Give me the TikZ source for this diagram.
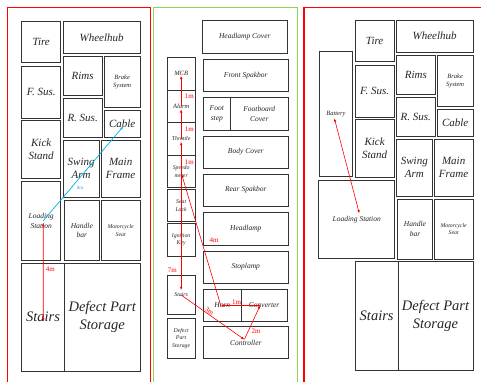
\documentclass[tikz,border=0pt]{standalone}
\usepackage{fontspec}
\setmainfont{Liberation Serif}
\usetikzlibrary{arrows.meta}
\definecolor{pgreen}{RGB}{146,208,80}
\definecolor{pblue}{RGB}{0,176,240}
\definecolor{lblue}{RGB}{80,150,220}
\newcommand\bx[7]{\node[box,#6,minimum width={(#4-#2)*1pt},minimum height={(#5-#3)*1pt}] (#1) at ({(#2+#4)/2},{(#3+#5)/2}) {#7};}
\tikzset{
  box/.style={draw=black!80, line width=0.8pt, inner sep=0pt, outer sep=0pt, align=center, text=black!85},
  sA/.style={font=\fontsize{14.5}{18}\selectfont\itshape},
  sB/.style={font=\fontsize{11}{13}\selectfont\itshape},
  sC/.style={font=\fontsize{8.5}{10.5}\selectfont\itshape},
  sD/.style={font=\fontsize{7.5}{9.5}\selectfont\itshape},
  sE/.style={font=\fontsize{6.5}{7.8}\selectfont\itshape},
  sF/.style={font=\fontsize{5.8}{7.6}\selectfont\itshape},
  frame/.style={line width=1.4pt},
  ra/.style={draw=red, line width=0.6pt, -{Latex[length=3.2pt,width=2.6pt]}},
  rab/.style={draw=red, line width=0.6pt, {Latex[length=3.2pt,width=2.6pt]}-{Latex[length=3.2pt,width=2.6pt]}},
  ba/.style={draw=pblue, line width=0.7pt, -{Latex[length=3.2pt,width=2.6pt]}},
  rlab/.style={font=\fontsize{7}{7}\selectfont, text=red, inner sep=0pt},
  blab/.style={font=\fontsize{5}{5}\selectfont, text=lblue, inner sep=0pt},
}
\begin{document}
\begin{tikzpicture}[x=1pt,y=-1pt]
\useasboundingbox (0,0) rectangle (481,381);
\clip (0,0) rectangle (481,381);
\fill[white] (0,0) rectangle (481,381);
% panel frames
\draw[frame, red] (7.3,400) -- (7.3,7.3) -- (150.7,7.3) -- (150.7,400);
\draw[frame, pgreen] (153.6,400) -- (153.6,7.3) -- (297.6,7.3) -- (297.6,400);
\draw[frame, red] (304,400) -- (304,7.3) -- (500,7.3);
% ---------- panel 1
\bx{tireA}{21.7}{21.3}{60.7}{62.3}{sB}{Tire}
\bx{wheelA}{63.3}{21.3}{140}{53.3}{sB}{Wheelhub}
\bx{rimsA}{63.3}{56.7}{102}{95.7}{sB}{Rims}
\bx{brakeA}{104.3}{56.7}{140}{107.7}{sE}{Brake\\System}
\bx{fsusA}{21.7}{66.3}{60.7}{118}{sB}{F. Sus.}
\bx{rsusA}{63.3}{98.7}{102}{137.3}{sB}{R. Sus.}
\bx{cableA}{104.3}{110.7}{140}{137.3}{sB}{Cable}
\bx{kickA}{21.7}{120.7}{60.7}{178.3}{sB}{Kick\\Stand}
\bx{swingA}{63.3}{140}{99}{197.7}{sB}{Swing\\Arm}
\bx{mainA}{101.3}{140}{140}{197.7}{sB}{Main\\Frame}
\bx{loadA}{21.7}{181.7}{60.7}{260}{sD}{Loading\\Station}
\bx{handleA}{64.3}{200.7}{99.3}{260.3}{sD}{Handle\\bar}
\bx{seatA}{101.3}{200.7}{140}{260.3}{sF}{Motorcycle\\Seat}
\bx{stairsA}{21.7}{263.3}{64.3}{371}{sA}{Stairs}
\bx{defectA}{64.3}{263.3}{140}{371}{sA}{Defect Part\\Storage}
\draw[ba] ([xshift=2pt]loadA.center) -- ([xshift=1pt,yshift=-2.5pt]cableA.center)
  node[blab, pos=0.35, xshift=9pt] {8m};
\draw[rab] ([xshift=2pt,yshift=-2pt]loadA.center) -- ([xshift=0.3pt,yshift=-4.5pt]stairsA.center)
  node[rlab, pos=0.47, xshift=7pt] {4m};
% ---------- panel 2
\bx{hlcov}{202.3}{20.7}{287.3}{53.3}{sD}{Headlamp Cover}
\bx{fspak}{203.3}{59.3}{288.3}{91.7}{sD}{Front Spakbor}
\bx{foot}{203.3}{97.7}{230.3}{130}{sD}{Foot\\step}
\bx{fbcov}{230.3}{97.7}{288.3}{130}{sD}{Footboard\\Cover}
\bx{body}{203.3}{136}{288.3}{168.3}{sD}{Body Cover}
\bx{rspak}{203.3}{174.3}{288.3}{206}{sD}{Rear Spakbor}
\bx{hl}{203.3}{212.7}{288.3}{245}{sD}{Headlamp}
\bx{stop}{203.3}{251}{288.3}{283.3}{sD}{Stoplamp}
\bx{horn}{203.3}{289.3}{241.3}{321.7}{sD}{Horn}
\bx{conv}{241.3}{289.3}{287}{321.7}{sD}{Converter}
\bx{ctrl}{203.3}{326.7}{288.3}{358.3}{sD}{Controller}
\bx{mcb}{167.3}{57.7}{195}{90}{sE}{MCB}
\bx{alarm}{167.3}{90}{195}{122.7}{sE}{Alarm}
\bx{thr}{167.3}{122.7}{195}{155}{sF}{Throttle}
\bx{spd}{167.3}{155}{195}{187.7}{sF}{Speedo\\meter}
\bx{slock}{167.3}{189.3}{195}{221.7}{sF}{Seat\\Lock}
\bx{ign}{167.3}{223.3}{195}{256}{sF}{Ignition\\Key}
\bx{stairsB}{167.3}{275.7}{195}{314.3}{sF}{Stairs}
\bx{defB}{167.3}{318.3}{195}{358.3}{sF}{Defect\\Part\\Storage}
\draw[ra] (alarm.center) -- ([yshift=-2pt]mcb.center) node[rlab, pos=0.32, anchor=west, xshift=3.5pt] {1m};
\draw[ra] (thr.center) -- ([yshift=-3pt]alarm.center) node[rlab, pos=0.32, anchor=west, xshift=3.5pt] {1m};
\draw[ra] (spd.center) -- ([yshift=-3pt]thr.center) node[rlab, pos=0.32, anchor=west, xshift=3.5pt] {1m};
\draw[ra] (spd.center) -- ([yshift=5pt]stairsB.center) node[rlab, pos=0.83, anchor=east, xshift=-4pt] {7m};
\draw[ra] ([xshift=-1.5pt]horn.center) -- ([xshift=0.5pt,yshift=-3pt]spd.center) node[rlab, pos=0.5, anchor=west, xshift=8pt] {4m};
\draw[ra] ([xshift=-4pt]conv.center) -- ([xshift=-1.5pt]horn.center) node[rlab, pos=0.6, above=0.5pt] {1m};
\draw[ra] (stairsB.center) -- ([xshift=-1.5pt,yshift=3pt]ctrl.center) node[rlab, pos=0.42, sloped, above=0.3pt] {3m};
\draw[ra] ([xshift=-1.5pt,yshift=3pt]ctrl.center) -- ([xshift=-4pt]conv.center) node[rlab, pos=0.25, anchor=west, xshift=3pt] {2m};
% ---------- panel 3
\bx{tireC}{355.3}{20}{394}{61.3}{sB}{Tire}
\bx{wheelC}{396.3}{20}{473}{52.3}{sB}{Wheelhub}
\bx{batt}{319}{51.3}{352.7}{176.3}{sE}{Battery}
\bx{fsusC}{355.3}{65.3}{394}{117}{sB}{F. Sus.}
\bx{rimsC}{396.3}{55}{435.3}{94.3}{sB}{Rims}
\bx{brakeC}{437.3}{55}{473}{106.7}{sE}{Brake\\System}
\bx{rsusC}{396.3}{97.3}{435.3}{136.3}{sB}{R. Sus.}
\bx{cableC}{437.3}{109.3}{473}{136.3}{sB}{Cable}
\bx{kickC}{355.3}{119.3}{394}{177}{sB}{Kick\\Stand}
\bx{swingC}{396.3}{139}{432.3}{196}{sB}{Swing\\Arm}
\bx{mainC}{434.3}{139}{473}{196}{sB}{Main\\Frame}
\bx{loadC}{318.7}{180}{394.7}{258.7}{sD}{Loading Station}
\bx{handleC}{397.3}{199.3}{432.7}{259}{sD}{Handle\\bar}
\bx{seatC}{434.3}{199.3}{473}{259}{sF}{Motorcycle\\Seat}
\bx{stairsC}{355.3}{261.3}{398}{370}{sA}{Stairs}
\bx{defC}{398}{261.3}{473}{370}{sA}{Defect Part\\Storage}
\draw[rab] ([xshift=-1.5pt,yshift=-4.5pt]batt.center) -- ([xshift=2.6pt,yshift=6pt]loadC.center);
\end{tikzpicture}
\end{document}
